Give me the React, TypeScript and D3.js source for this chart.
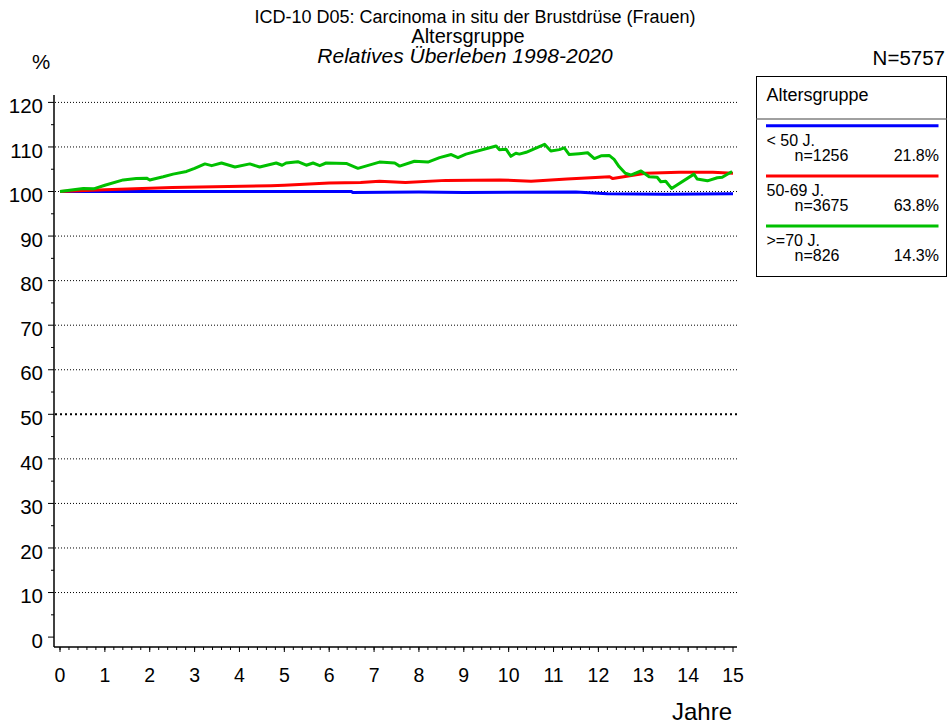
import React, { useEffect, useRef } from 'react'
import * as d3 from 'd3'

// x axis: years since diagnosis, y axis: relative survival in %
const years = d3.range(0, 16)
const percentTicks = d3.range(0, 121, 10)

const groupLabels = ['< 50 J.', '50-69 J.', '>=70 J.']
const groupCounts = [1256, 3675, 826]
const groupShares = ['21.8%', '63.8%', '14.3%']
const groupColors = ['#0000ff', '#ff0000', '#00c000']

// [year, relative survival %]
const under50: [number, number][] = [
  [0, 100], [6.5, 100], [6.52, 99.8], [8, 99.9], [9, 99.8], [11.5, 99.9],
  [12.2, 99.5], [13.5, 99.4], [15, 99.5],
]
const from50to69: [number, number][] = [
  [0, 100], [1, 100.4], [2.5, 100.9], [4.7, 101.3], [5, 101.4], [6, 101.9],
  [6.7, 102], [7.12, 102.3], [7.7, 102], [8.6, 102.5], [9.8, 102.6],
  [10.5, 102.3], [11.3, 102.8], [12.25, 103.3], [12.32, 102.9], [13.05, 104.1],
  [13.8, 104.3], [14.55, 104.3], [15, 104.1],
]
const over70: [number, number][] = [
  [0, 100], [0.3, 100.4], [0.52, 100.7], [0.75, 100.6], [1, 101.4], [1.41, 102.6],
  [1.7, 102.9], [1.93, 103], [2, 102.6], [2.3, 103.3], [2.52, 103.9], [2.82, 104.5],
  [3, 105.2], [3.23, 106.2], [3.38, 105.8], [3.6, 106.4], [3.9, 105.5], [4.23, 106.2],
  [4.45, 105.5], [4.82, 106.4], [4.95, 105.9], [5.04, 106.4], [5.3, 106.7],
  [5.49, 105.9], [5.64, 106.4], [5.79, 105.8], [5.93, 106.4], [6.38, 106.3],
  [6.64, 105.2], [7.12, 106.6], [7.46, 106.4], [7.57, 105.7], [7.9, 106.8],
  [8.2, 106.6], [8.46, 107.6], [8.72, 108.3], [8.87, 107.6], [9.05, 108.4],
  [9.72, 110.2], [9.79, 109.4], [9.94, 109.5], [10.05, 107.9], [10.16, 108.6],
  [10.24, 108.4], [10.39, 108.8], [10.8, 110.6], [10.94, 109.1], [11.13, 109.4],
  [11.24, 109.8], [11.35, 108.3], [11.57, 108.5], [11.76, 108.7], [11.91, 107.4],
  [12.06, 108], [12.24, 108.1], [12.35, 107.2], [12.46, 105.6], [12.6, 104.1],
  [12.72, 103.7], [12.95, 104.6], [13.13, 103.3], [13.31, 103.2], [13.39, 102.2],
  [13.5, 102.3], [13.63, 100.7], [14.13, 103.9], [14.2, 102.8], [14.43, 102.4],
  [14.65, 103.1], [14.76, 103.2], [14.98, 104.5],
]
const series = [under50, from50to69, over70]

const font = '"Liberation Sans", Arial, sans-serif'

export default function App() {
  const ref = useRef<SVGSVGElement>(null)

  useEffect(() => {
    const svg = d3.select(ref.current)
    svg.selectAll('*').remove()
    svg.attr('font-family', font)

    const x = d3.scaleLinear().domain([0, 15]).range([60, 733])
    const y = d3.scaleLinear().domain([0, 120]).range([637.1, 102.4])
    const axisX = 54
    const axisY = 647

    // titles
    svg.append('text').attr('x', 475).attr('y', 22.5).attr('text-anchor', 'middle')
      .attr('font-size', 18).text('ICD-10 D05: Carcinoma in situ der Brustdrüse (Frauen)')
    svg.append('text').attr('x', 468).attr('y', 42.5).attr('text-anchor', 'middle')
      .attr('font-size', 20).text('Altersgruppe')
    svg.append('text').attr('x', 465).attr('y', 63).attr('text-anchor', 'middle')
      .attr('font-size', 21).attr('font-style', 'italic').text('Relatives Überleben 1998-2020')
    svg.append('text').attr('x', 32).attr('y', 69).attr('font-size', 20.5).text('%')
    svg.append('text').attr('x', 945).attr('y', 65).attr('text-anchor', 'end')
      .attr('font-size', 20.5).text('N=5757')

    // grid
    svg.append('g').selectAll('line')
      .data(percentTicks.filter(v => v > 0))
      .join('line')
      .attr('x1', axisX + 1).attr('x2', 737)
      .attr('y1', d => y(d)).attr('y2', d => y(d))
      .attr('stroke', '#000')
      .attr('stroke-width', d => d === 50 ? 2 : 1)
      .attr('stroke-dasharray', d => d === 50 ? '2,3' : '1,2')

    // y axis
    const ya = svg.append('g')
    ya.append('line').attr('x1', axisX).attr('x2', axisX).attr('y1', 95).attr('y2', axisY)
      .attr('stroke', '#000').attr('stroke-width', 1.5)
    ya.selectAll('line.major').data(percentTicks).join('line').attr('class', 'major')
      .attr('x1', axisX - 6).attr('x2', axisX).attr('y1', d => y(d)).attr('y2', d => y(d))
      .attr('stroke', '#000')
    ya.selectAll('line.minor').data(d3.range(5, 120, 10)).join('line').attr('class', 'minor')
      .attr('x1', axisX - 3).attr('x2', axisX).attr('y1', d => y(d)).attr('y2', d => y(d))
      .attr('stroke', '#000')
    ya.selectAll('text').data(percentTicks).join('text')
      .attr('x', 43).attr('y', d => y(d)).attr('dy', '0.52em')
      .attr('text-anchor', 'end').attr('font-size', 20.5).text(d => d)

    // x axis
    const xa = svg.append('g')
    xa.append('line').attr('x1', axisX).attr('x2', 737).attr('y1', axisY).attr('y2', axisY)
      .attr('stroke', '#000').attr('stroke-width', 1.5)
    xa.selectAll('line.minor').data(d3.range(0, 75).map(i => i / 5)).join('line').attr('class', 'minor')
      .attr('x1', d => x(d)).attr('x2', d => x(d)).attr('y1', axisY).attr('y2', axisY + 3)
      .attr('stroke', '#000')
    xa.selectAll('line.major').data(years).join('line').attr('class', 'major')
      .attr('x1', d => x(d)).attr('x2', d => x(d)).attr('y1', axisY).attr('y2', axisY + 5)
      .attr('stroke', '#000')
    xa.selectAll('text').data(years).join('text')
      .attr('x', d => x(d)).attr('y', 682).attr('text-anchor', 'middle')
      .attr('font-size', 19.5).text(d => d)
    svg.append('text').attr('x', 732).attr('y', 720).attr('text-anchor', 'end')
      .attr('font-size', 24).text('Jahre')

    // curves
    const line = d3.line<[number, number]>().x(d => x(d[0])).y(d => y(d[1]))
    svg.append('g').selectAll('path').data(series).join('path')
      .attr('d', d => line(d))
      .attr('fill', 'none')
      .attr('stroke', (_, i) => groupColors[i])
      .attr('stroke-width', 3)
      .attr('stroke-linejoin', 'round')

    // legend
    const lg = svg.append('g')
    lg.append('rect').attr('x', 756.5).attr('y', 76.5).attr('width', 190).attr('height', 200)
      .attr('fill', '#fff').attr('stroke', '#000').attr('stroke-width', 1)
    lg.append('text').attr('x', 766.5).attr('y', 100.5).attr('font-size', 18).text('Altersgruppe')
    lg.append('line').attr('x1', 756.5).attr('x2', 946.5).attr('y1', 119).attr('y2', 119)
      .attr('stroke', '#808080').attr('stroke-width', 1.5)
    const item = lg.selectAll('g').data(groupLabels).join('g')
      .attr('transform', (_, i) => `translate(0,${i * 50.2})`)
    item.append('line').attr('x1', 766).attr('x2', 938.5).attr('y1', 125.7).attr('y2', 125.7)
      .attr('stroke', (_, i) => groupColors[i]).attr('stroke-width', 3)
    item.append('text').attr('x', 766.5).attr('y', 146).attr('font-size', 16).text(d => d)
    item.append('text').attr('x', 794.5).attr('y', 160.5).attr('font-size', 16)
      .text((_, i) => `n=${groupCounts[i]}`)
    item.append('text').attr('x', 939).attr('y', 160.5).attr('font-size', 16)
      .attr('text-anchor', 'end').text((_, i) => groupShares[i])
  }, [])

  return (
    <svg ref={ref} width={949} height={727}
      style={{ position: 'absolute', left: 0, top: 0, background: '#fff' }} />
  )
}
